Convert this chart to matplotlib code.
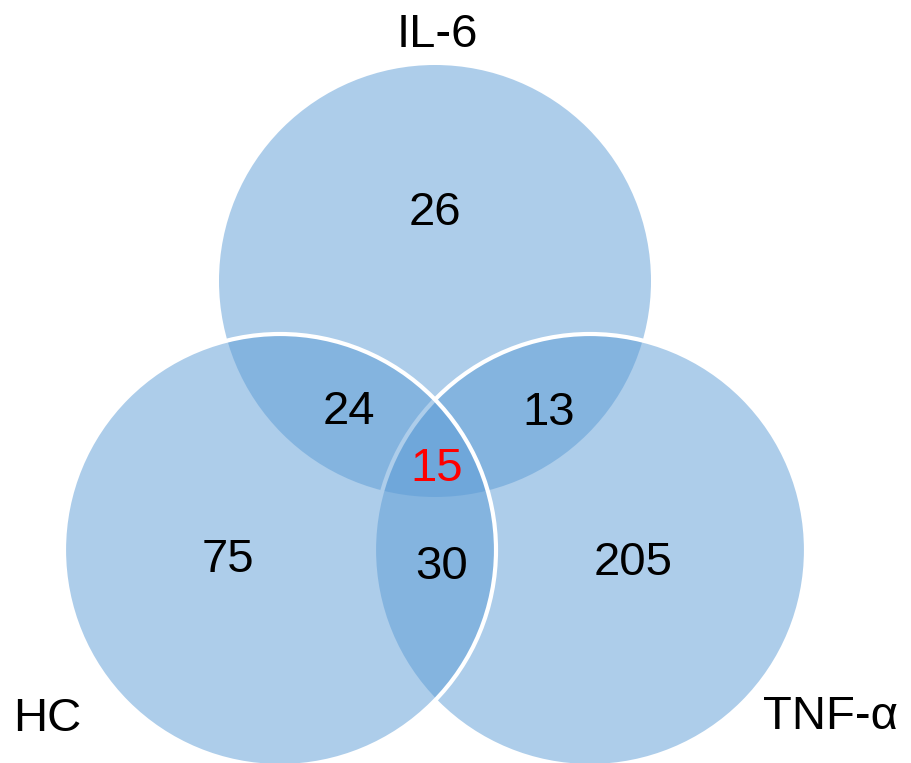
import matplotlib.pyplot as plt
from matplotlib.patches import Circle

plt.rcParams['font.family'] = ['Liberation Sans', 'DejaVu Sans']

# set names and region counts
sets = ['IL-6', 'HC', 'TNF-α']
regions = ['IL-6 only', 'HC only', 'TNF only', 'IL-6&HC', 'IL-6&TNF', 'HC&TNF', 'all']
counts = [26, 75, 205, 24, 13, 30, 15]

# layout in pixel coords (y grows downward)
centers = {'IL-6': (435, 281), 'HC': (280, 550), 'TNF-α': (590, 550)}
radius = 216
label_pos = {'IL-6': (437, 47), 'HC': (47, 731), 'TNF-α': (831, 729)}
count_pos = {
    'IL-6 only': (435, 225), 'HC only': (228, 572), 'TNF only': (633, 575),
    'IL-6&HC': (349, 424), 'IL-6&TNF': (549, 425), 'HC&TNF': (442, 579),
    'all': (437, 481),
}

fig = plt.figure(figsize=(9.12, 7.63), dpi=100)
ax = fig.add_axes([0, 0, 1, 1])
ax.set_xlim(0, 912)
ax.set_ylim(763, 0)
ax.set_aspect('equal')
ax.axis('off')

fill = (0.36, 0.61, 0.84, 0.5)
# draw order: IL-6 (no edge), TNF, HC (white edges)
ax.add_patch(Circle(centers['IL-6'], radius, facecolor=fill, edgecolor='none'))
ax.add_patch(Circle(centers['TNF-α'], radius, facecolor=fill, edgecolor='white', linewidth=3))
ax.add_patch(Circle(centers['HC'], radius, facecolor=fill, edgecolor='white', linewidth=3))

for name in sets:
    x, y = label_pos[name]
    ax.text(x, y, name, fontsize=34, ha='center', va='baseline')

for reg, n in zip(regions, counts):
    x, y = count_pos[reg]
    ax.text(x, y, str(n), fontsize=34, ha='center', va='baseline',
            color='red' if reg == 'all' else 'black')

fig.savefig('out.png', dpi=100)
